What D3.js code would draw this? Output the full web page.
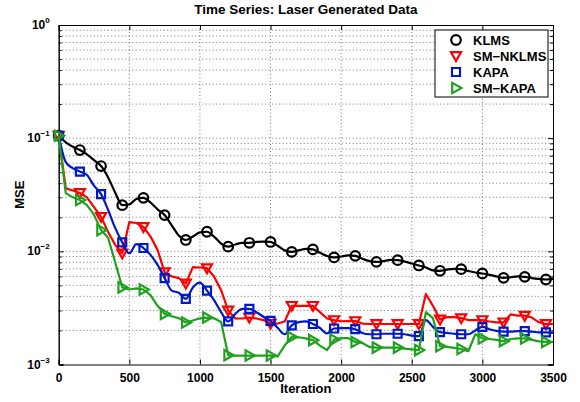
<!DOCTYPE html>
<html>
<head>
<meta charset="utf-8">
<script src="https://cdn.jsdelivr.net/npm/d3@7"></script>
<style>
  body { margin: 0; background: #fff; }
  text { font-family: "Liberation Sans", Arial, Helvetica, sans-serif; font-weight: bold; }
</style>
</head>
<body>
<svg id="chart"></svg>
<script>
// iterations sampled every 50
var iterations = d3.range(0, 3501, 50);

var klms = [0.105, 0.092, 0.084, 0.0785, 0.072, 0.064, 0.0567, 0.045, 0.033, 0.0256,
  0.026, 0.029, 0.0297, 0.027, 0.0235, 0.0209, 0.017, 0.0138, 0.0126, 0.0135,
  0.0147, 0.0149, 0.0135, 0.0117, 0.011, 0.0115, 0.0119, 0.0119, 0.0121, 0.0122,
  0.0121, 0.0112, 0.0102, 0.0099, 0.0102, 0.0105, 0.0104, 0.0097, 0.0091, 0.00883,
  0.0090, 0.0092, 0.00912, 0.0086, 0.0082, 0.00807, 0.0082, 0.0084, 0.00836, 0.0081,
  0.0078, 0.0075, 0.0072, 0.0068, 0.00673, 0.0069, 0.0070, 0.00696, 0.0067, 0.0065,
  0.00637, 0.0062, 0.0060, 0.00583, 0.0059, 0.0060, 0.00595, 0.0058, 0.0057, 0.00564,
  0.0057];

var smNklms = [0.105, 0.036, 0.0345, 0.0328, 0.030, 0.0246, 0.0202, 0.0148, 0.0114, 0.0096,
  0.0181, 0.0178, 0.0164, 0.0135, 0.0103, 0.00655, 0.006, 0.0058, 0.0052, 0.00725,
  0.0072, 0.0071, 0.006, 0.00454, 0.003, 0.00255, 0.00255, 0.0026, 0.00255, 0.00247,
  0.0023, 0.0023, 0.0024, 0.0033, 0.0033, 0.0033, 0.0033, 0.0029, 0.00255, 0.00247,
  0.00241, 0.00242, 0.00242, 0.0023, 0.00228, 0.00228, 0.00228, 0.00228, 0.00228, 0.00228,
  0.00228, 0.00228, 0.0042, 0.0033, 0.0025, 0.00262, 0.00262, 0.00257, 0.00247, 0.00247,
  0.00247, 0.0024, 0.00236, 0.00236, 0.00277, 0.0027, 0.0027, 0.0026, 0.00236, 0.00228,
  0.00228];

var kapa = [0.105, 0.0614, 0.0543, 0.0507, 0.0473, 0.038, 0.032, 0.0232, 0.0161, 0.012,
  0.0096, 0.0116, 0.0107, 0.0093, 0.0076, 0.0058, 0.0045, 0.0043, 0.0038, 0.0048,
  0.0053, 0.0045, 0.0037, 0.0029, 0.0024, 0.0028, 0.0031, 0.0031, 0.0029, 0.00264,
  0.00243, 0.00211, 0.00185, 0.00222, 0.00237, 0.0024, 0.00228, 0.0021, 0.00188, 0.00208,
  0.0021, 0.0021, 0.00205, 0.0019, 0.00185, 0.00185, 0.00187, 0.00187, 0.00187, 0.00185,
  0.0018, 0.00178, 0.00247, 0.00215, 0.00193, 0.0019, 0.00187, 0.00185, 0.00185, 0.002,
  0.00215, 0.00205, 0.00198, 0.00195, 0.00195, 0.00197, 0.00197, 0.00195, 0.00192, 0.00192,
  0.0019];

var smKapa = [0.105, 0.0327, 0.030, 0.0284, 0.0256, 0.021, 0.0154, 0.0132, 0.008, 0.0048,
  0.0046, 0.0047, 0.0046, 0.0041, 0.0033, 0.0028, 0.00267, 0.00257, 0.00235, 0.00245,
  0.00256, 0.0026, 0.00256, 0.00237, 0.00121, 0.0012, 0.0012, 0.0012, 0.0012, 0.0012,
  0.0012, 0.00118, 0.00147, 0.00175, 0.00174, 0.0017, 0.00164, 0.00147, 0.00134, 0.00166,
  0.00171, 0.00171, 0.00158, 0.00155, 0.00143, 0.00141, 0.00141, 0.00141, 0.00141, 0.00138,
  0.00136, 0.00134, 0.0029, 0.00257, 0.00145, 0.00143, 0.0014, 0.00137, 0.00131, 0.00185,
  0.0017, 0.00168, 0.00165, 0.00161, 0.00168, 0.0017, 0.0017, 0.00165, 0.0016, 0.00158,
  0.00158];

var seriesNames = ["KLMS", "SM\u2212NKLMS", "KAPA", "SM\u2212KAPA"];
var xTicks = [0, 500, 1000, 1500, 2000, 2500, 3000, 3500];
var yTicks = [1e-3, 1e-2, 1e-1, 1];
var yTickExps = ["\u22123", "\u22122", "\u22121", "0"];

var W = 580, H = 402;
var margin = {top: 25, right: 27, bottom: 37.5, left: 58.7};
var width = W - margin.left - margin.right;
var height = H - margin.top - margin.bottom;

var svg = d3.select("#chart").attr("width", W).attr("height", H);
var g = svg.append("g").attr("transform", "translate(" + margin.left + "," + margin.top + ")");

var x = d3.scaleLinear().domain([0, 3500]).range([0, width]);
var y = d3.scaleLog().domain([1e-3, 1]).range([height, 0]);

// minor log ticks
var minorTicks = [];
[1e-3, 1e-2, 1e-1].forEach(function(d) {
  for (var k = 2; k <= 9; k++) minorTicks.push(d * k);
});

// grid
var grid = g.append("g").attr("stroke", "#555").attr("stroke-width", 0.8)
  .attr("stroke-dasharray", "1,2.5");
grid.selectAll(".gx").data(xTicks.slice(1, -1)).enter().append("line")
  .attr("x1", function(d) { return x(d); }).attr("x2", function(d) { return x(d); })
  .attr("y1", 0).attr("y2", height);
grid.selectAll(".gy").data(minorTicks.concat(yTicks.slice(1, -1))).enter().append("line")
  .attr("x1", 0).attr("x2", width)
  .attr("y1", function(d) { return y(d); }).attr("y2", function(d) { return y(d); });

// axes with inward ticks
g.append("g").attr("class", "axis").attr("transform", "translate(0," + height + ")")
  .call(d3.axisBottom(x).tickValues(xTicks).tickSize(-5).tickPadding(9).tickFormat(d3.format("d")));
g.append("g").attr("class", "axis")
  .call(d3.axisTop(x).tickValues(xTicks).tickSize(-5).tickFormat(""));
g.append("g").attr("class", "axis")
  .call(d3.axisLeft(y).tickValues(yTicks).tickSize(-5).tickFormat(""));
g.append("g").attr("class", "axis").attr("transform", "translate(" + width + ",0)")
  .call(d3.axisRight(y).tickValues(yTicks).tickSize(-5).tickFormat(""));
g.append("g").attr("class", "axis")
  .call(d3.axisLeft(y).tickValues(minorTicks).tickSize(-3).tickFormat(""));
g.append("g").attr("class", "axis").attr("transform", "translate(" + width + ",0)")
  .call(d3.axisRight(y).tickValues(minorTicks).tickSize(-3).tickFormat(""));

g.selectAll(".axis path").attr("stroke", "#000").attr("stroke-width", 1);
g.selectAll(".axis line").attr("stroke", "#000").attr("stroke-width", 1);
g.selectAll(".axis text").attr("font-size", "12px").attr("fill", "#000")
  .style("font-family", "'Liberation Sans', Arial, sans-serif").style("font-weight", "bold");

// y tick labels 10^n
var ylab = g.append("g");
yTicks.forEach(function(d, i) {
  var t = ylab.append("text").attr("x", -9).attr("y", y(d) + 4)
    .attr("text-anchor", "end").attr("font-size", "12px").attr("fill", "#000");
  t.append("tspan").text("10");
  t.append("tspan").attr("dy", -6).attr("font-size", "8px").text(yTickExps[i]);
});

// lines and markers
var series = [
  {name: seriesNames[0], values: klms, color: "#000000", marker: "circle"},
  {name: seriesNames[1], values: smNklms, color: "#ff0000", marker: "down"},
  {name: seriesNames[2], values: kapa, color: "#0018c8", marker: "square"},
  {name: seriesNames[3], values: smKapa, color: "#1fa01f", marker: "right"}
];

var markerPath = {
  circle: d3.symbol().type(d3.symbolCircle).size(Math.PI * 4.8 * 4.8)(),
  square: "M-4,-4L4,-4L4,4L-4,4Z",
  down: "M-5,-3.8L5,-3.8L0,5Z",
  right: "M-3.8,-5.2L-3.8,5.2L5.4,0Z"
};

series.forEach(function(s) {
  var pts = iterations.map(function(it, i) { return [it, s.values[i]]; });
  var curve = (s.marker === "circle" || s.marker === "square") ? d3.curveMonotoneX : d3.curveLinear;
  var line = d3.line().curve(curve)
    .x(function(d) { return x(d[0]); })
    .y(function(d) { return y(d[1]); });
  g.append("path").datum(pts)
    .attr("d", line).attr("fill", "none")
    .attr("stroke", s.color).attr("stroke-width", 2.2).attr("stroke-linejoin", "round");
  g.append("g").selectAll("path").data(pts.filter(function(d, i) { return i % 3 === 0 && d[0] < 3500; }))
    .enter().append("path")
    .attr("d", markerPath[s.marker])
    .attr("transform", function(d) { return "translate(" + x(d[0]) + "," + y(d[1]) + ")"; })
    .attr("fill", "none").attr("stroke", s.color).attr("stroke-width", 2.2);
});

// legend
var leg = svg.append("g").attr("transform", "translate(435,30)");
leg.append("rect").attr("width", 113).attr("height", 67)
  .attr("fill", "#fff").attr("stroke", "#000").attr("stroke-width", 1);
series.forEach(function(s, i) {
  var yy = 10 + i * 16;
  leg.append("path").attr("d", markerPath[s.marker])
    .attr("transform", "translate(21," + yy + ")")
    .attr("fill", "none").attr("stroke", s.color).attr("stroke-width", 2.2);
  leg.append("text").attr("x", 38).attr("y", yy + 4.5)
    .attr("font-size", "13px").attr("fill", "#000").text(s.name);
});

// titles
svg.append("text").attr("x", margin.left + width / 2).attr("y", 14)
  .attr("text-anchor", "middle").attr("font-size", "13.5px").attr("fill", "#000")
  .text("Time Series: Laser Generated Data");
svg.append("text").attr("x", margin.left + width / 2).attr("y", 393)
  .attr("text-anchor", "middle").attr("font-size", "13px").attr("fill", "#000")
  .text("Iteration");
svg.append("text").attr("transform", "translate(24," + (margin.top + height / 2) + ") rotate(-90)")
  .attr("text-anchor", "middle").attr("font-size", "13px").attr("fill", "#000")
  .text("MSE");
</script>
</body>
</html>
